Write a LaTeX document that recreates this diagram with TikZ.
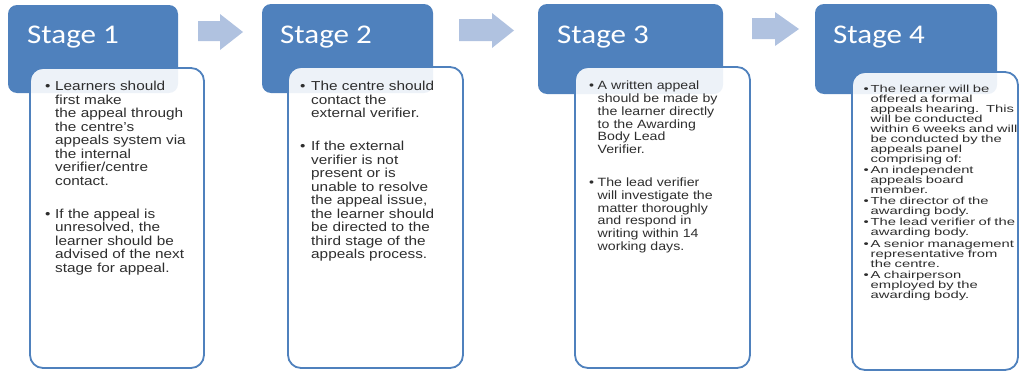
\documentclass[tikz,border=0pt]{standalone}
\usepackage{fontspec}
\usepackage{tikz}
\usetikzlibrary{positioning}
\newfontfamily\stagefont[FakeStretch=1.15]{Carlito}
\newfontfamily\bodyfont[FakeStretch=1.18]{Liberation Sans}
\newfontfamily\panelfont[FakeStretch=1.45]{Liberation Sans}
\definecolor{stageblue}{HTML}{4F81BD}
\definecolor{arrowblue}{HTML}{B0C2E0}
\definecolor{bodygray}{HTML}{2E2E2E}
% one bullet paragraph: hanging indent, lines broken by hand
\newcommand{\bulpar}[2]{\par{\let\\\newline\hangindent=#1\hangafter=1\noindent\makebox[#1][l]{\textbullet}\ignorespaces#2\par}}
\lineskiplimit=-100pt

\begin{document}
\begin{tikzpicture}[x=1pt,y=-1pt,
  header/.style={rectangle,rounded corners=9pt,fill=stageblue,draw=none,inner sep=0pt},
  panel/.style={rectangle,rounded corners=13pt,draw=stageblue,line width=1.8pt,fill=white,fill opacity=0.9,inner sep=0pt},
  stagelbl/.style={anchor=base west,inner sep=0pt,text=white,font=\stagefont\fontsize{27}{30}\selectfont},
  bodytxt/.style={anchor=north west,inner sep=0pt,align=left,text width=170pt,text=bodygray},
  blockarr/.style={fill=arrowblue}
]
\useasboundingbox (0,0) rectangle (1020,372);

% stage headers
\node[header,minimum width=170pt,minimum height=88pt] (head1) at (93,49) {};
\node[header,minimum width=171pt,minimum height=89pt] (head2) at (347.5,48.5) {};
\node[header,minimum width=185pt,minimum height=90pt] (head3) at (630.5,49) {};
\node[header,minimum width=182pt,minimum height=90pt] (head4) at (906,49) {};

\node[stagelbl] (lbl1) at (27,43) {Stage 1};
\node[stagelbl] (lbl2) at (280,43) {Stage 2};
\node[stagelbl] (lbl3) at (557,43) {Stage 3};
\node[stagelbl] (lbl4) at (833,43) {Stage 4};

% arrows between stages
\fill[blockarr] (198,21) -- (220,21) -- (220,14) -- (243,32) -- (220,50) -- (220,41) -- (198,41) -- cycle;
\fill[blockarr] (459,19) -- (492,19) -- (492,13) -- (514,30.5) -- (492,48) -- (492,41) -- (459,41) -- cycle;
\fill[blockarr] (752,18) -- (775,18) -- (775,12) -- (799,29) -- (775,46) -- (775,39) -- (752,39) -- cycle;

% text panels
\node[panel,minimum width=174pt,minimum height=300pt] (box1) at (117,218) {};
\node[panel,minimum width=175pt,minimum height=301pt] (box2) at (375.5,217.5) {};
\node[panel,minimum width=175pt,minimum height=301pt] (box3) at (662.5,217.5) {};
\node[panel,minimum width=166pt,minimum height=298pt] (box4) at (935,221) {};

\node[bodytxt,font=\bodyfont\fontsize{13}{13.5}\selectfont] (txt1) at (45,77) {%
\bulpar{10pt}{Learners should\\ first make\\ the appeal through\\ the centre’s\\ appeals system via\\ the internal\\ verifier/centre\\ contact.}
\vspace{19.5pt}
\bulpar{10pt}{If the appeal is\\ unresolved, the\\ learner should be\\ advised of the next\\ stage for appeal.}};

\node[bodytxt,font=\bodyfont\fontsize{13}{13.5}\selectfont] (txt2) at (300,77) {%
\bulpar{11pt}{The centre should\\ contact the\\ external verifier.}
\vspace{19.5pt}
\bulpar{11pt}{If the external\\ verifier is not\\ present or is\\ unable to resolve\\ the appeal issue,\\ the learner should\\ be directed to the\\ third stage of the\\ appeals process.}};

\node[bodytxt,font=\bodyfont\fontsize{12}{12.7}\selectfont] (txt3) at (589,77) {%
\bulpar{8.5pt}{A written appeal\\ should be made by\\ the learner directly\\ to the Awarding\\ Body Lead\\ Verifier.}
\vspace{20.5pt}
\bulpar{8.5pt}{The lead verifier\\ will investigate the\\ matter thoroughly\\ and respond in\\ writing within 14\\ working days.}};

\node[bodytxt,font=\panelfont\fontsize{10.2}{10}\selectfont] (txt4) at (863.5,82) {%
\bulpar{7pt}{The learner will be\\ offered a formal\\ appeals hearing.~~This\\ will be conducted\\ within 6 weeks and will\\ be conducted by the\\ appeals panel\\ comprising of:}
\vspace{1.2pt}
\bulpar{7pt}{An independent\\ appeals board\\ member.}
\vspace{1.2pt}
\bulpar{7pt}{The director of the\\ awarding body.}
\vspace{1.2pt}
\bulpar{7pt}{The lead verifier of the\\ awarding body.}
\vspace{1.2pt}
\bulpar{7pt}{A senior management\\ representative from\\ the centre.}
\vspace{1.2pt}
\bulpar{7pt}{A chairperson\\ employed by the\\ awarding body.}};
\end{tikzpicture}
\end{document}
